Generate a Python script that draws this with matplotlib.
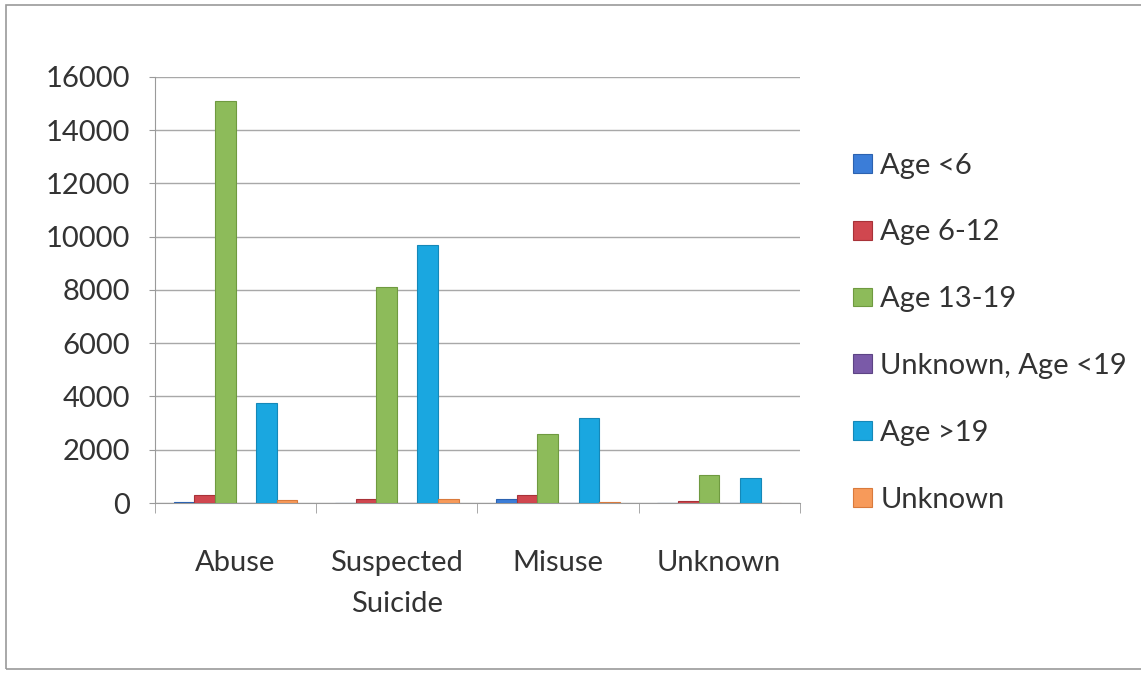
import numpy as np
import matplotlib.pyplot as plt
from matplotlib.patches import Rectangle

# Exposure reason by age group
categories = ["Abuse", "Suspected\nSuicide", "Misuse", "Unknown"]
series_names = ["Age <6", "Age 6-12", "Age 13-19", "Unknown, Age <19", "Age >19", "Unknown"]
age_under_6 = [20, 15, 150, 5]
age_6_12 = [300, 150, 300, 80]
age_13_19 = [15100, 8100, 2600, 1070]
unknown_under_19 = [10, 10, 10, 5]
age_over_19 = [3750, 9700, 3200, 950]
unknown_age = [100, 150, 20, 10]

all_series = [age_under_6, age_6_12, age_13_19, unknown_under_19, age_over_19, unknown_age]
colors = ["#3b7dd8", "#d0474f", "#8dbb5a", "#7a5aa8", "#1aa7e0", "#f79a5a"]
edges = ["#2c62b0", "#a83238", "#6f9a40", "#5d4485", "#1588b8", "#d97a3c"]

plt.rcParams["font.family"] = ["Lato", "DejaVu Sans"]
text_color = "#333333"

fig = plt.figure(figsize=(11.41, 6.73), dpi=100)
ax = fig.add_axes([0.1358, 0.2526, 0.5652, 0.633])

x = np.arange(len(categories))
bar_w = 0.128
offsets = (np.arange(len(all_series)) - (len(all_series) - 1) / 2) * bar_w

for vals, off, c, ec, name in zip(all_series, offsets, colors, edges, series_names):
    ax.bar(x + off, vals, width=bar_w, color=c, edgecolor=ec, linewidth=0.8,
           label=name, zorder=3)

ax.set_xlim(-0.5, len(categories) - 0.5)
ax.set_ylim(0, 16000)
ax.set_yticks(np.arange(0, 16001, 2000))
ax.yaxis.grid(True, color="#a8a8a8", linewidth=1.0, zorder=0)

# category labels at the centres, tick marks at the boundaries
ax.set_xticks(x)
ax.set_xticklabels(categories, fontsize=21, color=text_color, linespacing=1.7,
                   va="top")
ax.tick_params(axis="x", which="major", length=0, pad=34)
ax.set_xticks(np.arange(-0.5, len(categories)), minor=True)
ax.tick_params(axis="x", which="minor", length=7, color="#9a9a9a", direction="out")
ax.tick_params(axis="y", labelsize=21, labelcolor=text_color, length=4,
               color="#9a9a9a", pad=14)

for side in ["top", "right"]:
    ax.spines[side].set_visible(False)
ax.spines["left"].set_color("#9a9a9a")
ax.spines["bottom"].set_color("#9a9a9a")

leg = ax.legend(loc="upper left", bbox_to_anchor=(1.065, 0.85), frameon=False,
                fontsize=21, handlelength=0.62, handleheight=0.62,
                handletextpad=0.3, labelspacing=1.4, borderaxespad=0)
for t in leg.get_texts():
    t.set_color(text_color)

# outer frame of the chart area
fig.patches.append(Rectangle((0.0053, 0.006), 1.0, 0.9866, transform=fig.transFigure,
                             fill=False, edgecolor="#9a9a9a", linewidth=1.2))

fig.savefig("out.png", dpi=100)
